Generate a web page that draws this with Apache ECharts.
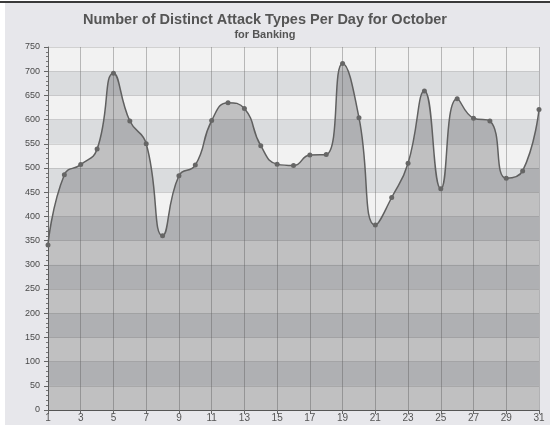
<!DOCTYPE html>
<html>
<head>
<meta charset="utf-8">
<script src="https://cdn.jsdelivr.net/npm/echarts@6/dist/echarts.min.js"></script>
<style>
  html, body { margin: 0; padding: 0; background: #ffffff; }
  #chart { width: 550px; height: 425px; }
</style>
</head>
<body>
<div id="chart"></div>
<script>
// Days of October
const days = Array.from({ length: 31 }, (_, i) => String(i + 1));
// Distinct attack types observed per day
const attackTypes = [
  341, 486, 507, 539, 696, 597, 550, 360, 484, 506,
  598, 635, 623, 546, 508, 505, 527, 528, 716, 604,
  382, 439, 510, 659, 457, 643, 603, 597, 479, 494, 621
];

const chart = echarts.init(document.getElementById('chart'), null, { renderer: 'canvas' });

chart.setOption({
  animation: false,
  backgroundColor: '#ffffff',
  graphic: [
    { type: 'rect', z: -10, shape: { x: 5, y: 3, width: 545, height: 422 }, style: { fill: '#e7e7eb' } },
    { type: 'rect', z: -9, shape: { x: 0, y: 1, width: 550, height: 2 }, style: { fill: '#3a3a3a' } }
  ],
  title: {
    text: 'Number of Distinct Attack Types Per Day for October',
    subtext: 'for Banking',
    left: 260,
    top: 7,
    textAlign: 'center',
    itemGap: 2,
    textStyle: { fontFamily: 'Liberation Sans', fontWeight: 'bold', fontSize: 14.5, color: '#555555' },
    subtextStyle: { fontFamily: 'Liberation Sans', fontWeight: 'bold', fontSize: 11, color: '#555555' }
  },
  grid: { left: 48, right: 11, top: 47, bottom: 15 },
  xAxis: {
    type: 'category',
    data: days,
    boundaryGap: false,
    axisLine: { lineStyle: { color: '#555555', width: 1 } },
    axisTick: { interval: 1, length: 4, lineStyle: { color: '#666666' } },
    axisLabel: { interval: 1, fontSize: 10, color: '#555555', margin: 3, fontFamily: 'Liberation Sans' },
    splitLine: { show: true, interval: 1, lineStyle: { color: 'rgba(110,110,110,0.45)', width: 1 } }
  },
  yAxis: {
    type: 'value',
    min: 0,
    max: 750,
    interval: 50,
    axisLine: { show: true, lineStyle: { color: '#666666' } },
    axisTick: { show: true, length: 4, lineStyle: { color: '#666666' } },
    minorTick: { show: true, splitNumber: 5, length: 2, lineStyle: { color: '#777777' } },
    axisLabel: { fontSize: 9, color: '#4a4a4a', margin: 8, fontFamily: 'Liberation Sans' },
    splitLine: { show: true, lineStyle: { color: 'rgba(150,150,150,0.35)', width: 1 } },
    splitArea: { show: true, areaStyle: { color: ['#f2f2f2', '#dadcde'] } }
  },
  series: [{
    type: 'line',
    data: attackTypes,
    smooth: 0.5,
    symbol: 'circle',
    symbolSize: 5,
    itemStyle: { color: '#666666' },
    lineStyle: { color: '#606060', width: 1.5 },
    areaStyle: { color: 'rgba(58,60,64,0.39)' }
  }]
});
</script>
</body>
</html>
